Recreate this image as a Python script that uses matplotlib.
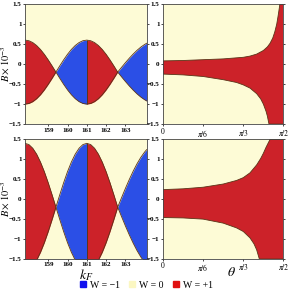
import matplotlib.pyplot as plt
from matplotlib.lines import Line2D
import numpy as np

plt.rcParams['font.family'] = 'Liberation Serif'
plt.rcParams['mathtext.fontset'] = 'stix'

# left panels: B boundaries vs k_F
kf = [157.8, 158.0, 158.2, 158.4, 158.6, 158.8, 159.0, 159.2, 159.4,
      159.6, 159.8, 160.0, 160.2, 160.4, 160.6, 160.8, 161.0,
      161.2, 161.4, 161.6, 161.8, 162.0, 162.2, 162.4, 162.6,
      162.8, 163.0, 163.2, 163.4, 163.6, 163.8, 164.0, 164.1]
tl_upper = [0.6, 0.585, 0.539, 0.465, 0.366, 0.245, 0.106, -0.044, -0.2,
            -0.044, 0.106, 0.245, 0.366, 0.465, 0.539, 0.585, 0.6,
            0.585, 0.539, 0.465, 0.366, 0.245, 0.106, -0.044, -0.2,
            -0.081, 0.036, 0.147, 0.25, 0.344, 0.426, 0.493, 0.521]
tl_lower = [-1.0, -0.985, -0.939, -0.865, -0.766, -0.645, -0.506, -0.356, -0.2,
            -0.356, -0.506, -0.645, -0.766, -0.865, -0.939, -0.985, -1.0,
            -0.985, -0.939, -0.865, -0.766, -0.645, -0.506, -0.356, -0.2,
            -0.319, -0.436, -0.547, -0.65, -0.744, -0.826, -0.893, -0.921]
bl_upper = [1.4, 1.37, 1.278, 1.13, 0.931, 0.69, 0.413, 0.112, -0.2,
            0.112, 0.413, 0.69, 0.931, 1.13, 1.278, 1.37, 1.4,
            1.37, 1.278, 1.13, 0.931, 0.69, 0.413, 0.112, -0.2,
            0.038, 0.272, 0.494, 0.701, 0.888, 1.051, 1.186, 1.242]
bl_lower = [-1.8, -1.77, -1.678, -1.53, -1.331, -1.09, -0.813, -0.512, -0.2,
            -0.512, -0.813, -1.09, -1.331, -1.53, -1.678, -1.77, -1.8,
            -1.77, -1.678, -1.53, -1.331, -1.09, -0.813, -0.512, -0.2,
            -0.438, -0.672, -0.894, -1.101, -1.288, -1.451, -1.586, -1.642]
red_spans = [(157.8, 159.4), (161.0, 162.6)]
blue_spans = [(159.4, 161.0), (162.6, 164.1)]

# right panels: B boundaries vs theta (degrees)
tr_th_up = [0, 15, 30, 45, 60, 65, 70, 75, 78, 80, 82, 83.5, 85, 86, 87, 87.3, 90]
tr_up = [0.08, 0.09, 0.11, 0.13, 0.17, 0.2, 0.25, 0.34, 0.43, 0.52, 0.65, 0.8, 1.0, 1.2, 1.42, 1.5, 1.5]
tr_th_lo = [0, 15, 30, 45, 55, 60, 65, 70, 73, 75, 77, 78, 79.2, 90]
tr_lo = [-0.25, -0.27, -0.31, -0.39, -0.46, -0.52, -0.6, -0.74, -0.87, -1.0, -1.18, -1.3, -1.5, -1.5]
br_th_up = [0, 15, 30, 45, 55, 60, 65, 70, 73, 75, 77, 80, 90]
br_up = [0.24, 0.26, 0.30, 0.38, 0.47, 0.54, 0.66, 0.86, 1.02, 1.15, 1.30, 1.5, 1.5]
br_th_lo = [0, 15, 30, 45, 55, 60, 65, 68, 70, 72, 90]
br_lo = [-0.46, -0.47, -0.50, -0.60, -0.72, -0.81, -0.97, -1.12, -1.27, -1.5, -1.5]

yticks = [-1.5, -1, -0.5, 0, 0.5, 1, 1.5]
ylabels = ['\u22121.5', '\u22121', '\u22120.5', '0', '0.5', '1', '1.5']
kf_ticks = [159, 160, 161, 162, 163]
th_ticks = [0, np.pi / 6, np.pi / 3, np.pi / 2]
th_labels = ['0', r'$\pi/6$', r'$\pi/3$', r'$\pi/2$']

yellow = '#fdfbd6'
red = '#cc2229'
blue = '#2b4fe6'
edge = '#5a3418'

fig = plt.figure(figsize=(2.91, 2.94), dpi=100)
ax_tl = fig.add_axes([0.086, 0.578, 0.418, 0.408])
ax_tr = fig.add_axes([0.560, 0.578, 0.414, 0.408])
ax_bl = fig.add_axes([0.086, 0.119, 0.418, 0.407])
ax_br = fig.add_axes([0.560, 0.119, 0.414, 0.407])


def style(ax):
    ax.set_facecolor(yellow)
    ax.set_ylim(-1.5, 1.5)
    ax.set_yticks(yticks)
    ax.set_yticklabels(ylabels, fontweight='bold')
    ax.tick_params(labelsize=5, length=1.5, width=0.5, pad=1, right=True)
    for s in ax.spines.values():
        s.set_linewidth(0.6)
        s.set_color('#444444')


for ax, up, lo in [(ax_tl, tl_upper, tl_lower), (ax_bl, bl_upper, bl_lower)]:
    style(ax)
    x = np.array(kf)
    for spans, col in [(red_spans, red), (blue_spans, blue)]:
        for a, b in spans:
            m = (x >= a - 1e-9) & (x <= b + 1e-9)
            ax.fill_between(x, lo, up, where=m, color=col, lw=0)
    ax.plot(kf, up, color=edge, lw=0.6)
    ax.plot(kf, lo, color=edge, lw=0.6)
    i = kf.index(161.0)
    ax.vlines(161.0, lo[i], up[i], color=edge, lw=0.7)
    ax.set_xlim(157.8, 164.1)
    ax.set_xticks(kf_ticks)
    ax.set_xticklabels([str(t) for t in kf_ticks], fontweight='bold')

for ax, thu, u, thl, l in [(ax_tr, tr_th_up, tr_up, tr_th_lo, tr_lo),
                            (ax_br, br_th_up, br_up, br_th_lo, br_lo)]:
    style(ax)
    xu = np.deg2rad(thu)
    xl = np.deg2rad(thl)
    ax.fill(np.concatenate([xu, xl[::-1]]), np.concatenate([u, l[::-1]]),
            color=red, lw=0)
    ax.plot(xu, u, color=edge, lw=0.6)
    ax.plot(xl, l, color=edge, lw=0.6)
    ax.set_xlim(0, np.pi / 2)
    ax.set_xticks(th_ticks)
    ax.set_xticklabels(th_labels, fontsize=5.5)

for ax in (ax_tl, ax_bl):
    ax.set_ylabel(r'$B\times10^{-3}$', fontsize=7.5)
    ax.yaxis.set_label_coords(-0.11, 0.5)
ax_bl.set_xlabel(r'$k_F$', fontsize=10, labelpad=0)
ax_br.set_xlabel(r'$\theta$', fontsize=10, labelpad=-3)
ax_br.xaxis.set_label_coords(0.57, -0.06)

handles = [Line2D([], [], marker='s', ls='', color=c, markersize=4) for c in ['#1010ee', '#fbf7c2', '#e01010']]
fig.legend(handles, ['W = \u22121', 'W = 0', 'W = +1'], loc='center',
           bbox_to_anchor=(0.5, 0.03), ncol=3, frameon=False, fontsize=7,
           handletextpad=0.2, columnspacing=0.8, handlelength=1.0)

fig.savefig('out.png', dpi=100)
